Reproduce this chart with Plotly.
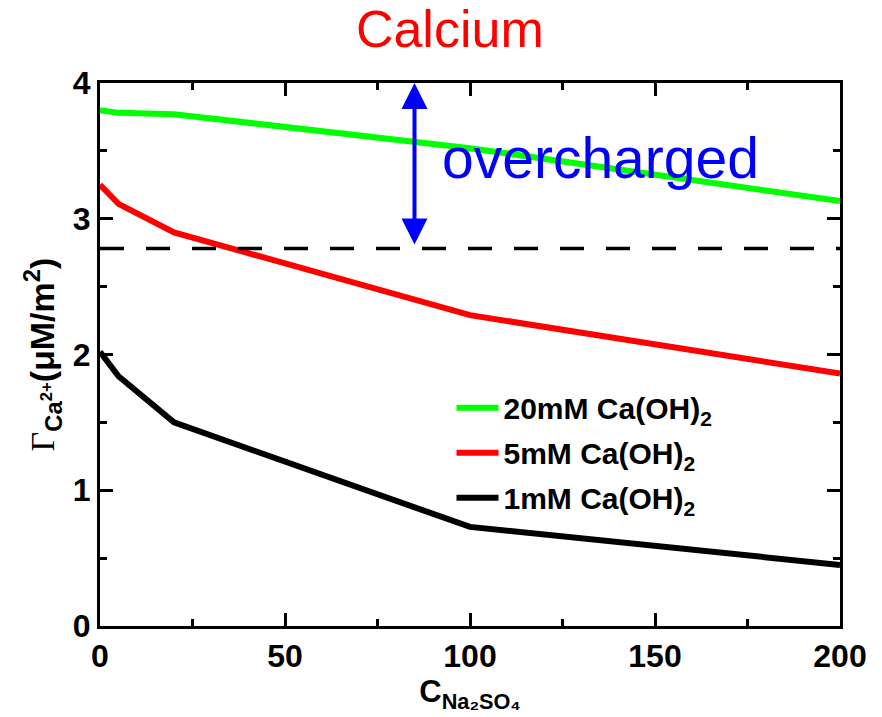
import plotly.graph_objects as go

# Data
conc_na2so4 = [0, 5, 20, 100, 200]
gamma_20mM = [3.80, 3.78, 3.77, 3.52, 3.13]
gamma_5mM = [3.25, 3.11, 2.90, 2.29, 1.86]
gamma_1mM = [2.02, 1.84, 1.50, 0.73, 0.45]
series_names = ["20mM Ca(OH)<sub>2</sub>", "5mM Ca(OH)<sub>2</sub>", "1mM Ca(OH)<sub>2</sub>"]
series_colors = ["#00ff00", "#ff0000", "#000000"]
threshold = 2.78
arrow_x = 85
arrow_top = 4.0
arrow_bottom = 2.8

fig = go.Figure()
for i, (ys, name, col) in enumerate(zip([gamma_20mM, gamma_5mM, gamma_1mM], series_names, series_colors)):
    fig.add_trace(go.Scatter(x=conc_na2so4, y=ys, mode="lines", name=name,
                             line=dict(color=col, width=6), legendgroup=f"g{i}"))

fig.add_shape(type="line", xref="x", yref="y", x0=0, x1=200, y0=threshold, y1=threshold,
              line=dict(color="black", width=3.5, dash="24px,22px"))

fig.add_annotation(x=arrow_x, y=arrow_top, ax=arrow_x, ay=arrow_bottom, xref="x", yref="y",
                   axref="x", ayref="y", text="", showarrow=True, arrowhead=2, arrowsize=1.3,
                   arrowwidth=4, arrowcolor="#0000ff", arrowside="end+start", standoff=0, startstandoff=0)
fig.add_annotation(x=92, y=3.45, xref="x", yref="y", text="overcharged", showarrow=False,
                   xanchor="left", yanchor="middle",
                   font=dict(family="Liberation Sans, Arial", size=57, color="#0000ff"))

axis_common = dict(showline=True, linecolor="black", linewidth=3, mirror="ticks",
                   ticks="inside", tickwidth=3, ticklen=13, tickcolor="black",
                   showgrid=False, zeroline=False,
                   tickfont=dict(family="Liberation Sans, Arial", size=32, color="black", weight="bold"))

fig.update_xaxes(range=[0, 200], tick0=0, dtick=50,
                 minor=dict(ticks="inside", dtick=25, ticklen=7, tickwidth=3, tickcolor="black"),
                 title=dict(text="<b>C<sub>Na₂SO₄</sub></b>", standoff=2,
                            font=dict(family="Liberation Sans, Arial", size=31, color="black")),
                 **axis_common)
fig.update_yaxes(range=[0, 4], tick0=0, dtick=1,
                 minor=dict(ticks="inside", dtick=0.5, ticklen=7, tickwidth=3, tickcolor="black"),
                 title=dict(text="<span style='font-family:Liberation Serif, serif; font-weight:normal; color:#000000'>Γ</span><sub><b>Ca<sup>2+</sup></b></sub><b>(μM/m<sup>2</sup>)</b>",
                            standoff=8,
                            font=dict(family="Liberation Sans, Arial", size=34, color="black")),
                 **axis_common)

fig.update_layout(
    width=882, height=717,
    margin=dict(l=100, r=42, t=83, b=91),
    plot_bgcolor="white", paper_bgcolor="white",
    title=dict(text="Calcium", x=0.51, xanchor="center", y=0.96, yanchor="middle",
               font=dict(family="Liberation Sans, Arial", size=52, color="#ff0000")),
    legend=dict(x=0.475, y=0.45, xanchor="left", yanchor="top", bgcolor="rgba(0,0,0,0)",
                tracegroupgap=3, itemwidth=42,
                font=dict(family="Liberation Sans, Arial", size=30, color="black", weight="bold")),
)

fig.write_html("out.html")
